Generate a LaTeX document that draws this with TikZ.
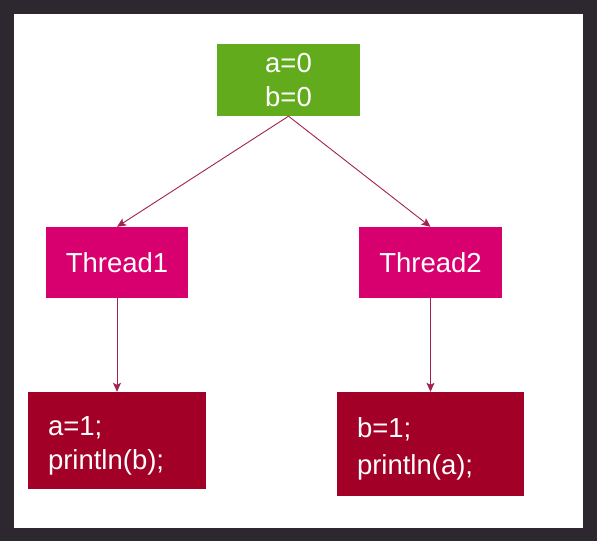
\documentclass[tikz,border=0pt]{standalone}
\usepackage{fontspec}
\setmainfont{Liberation Sans}
\usetikzlibrary{arrows.meta}
\definecolor{frame}{HTML}{2D2830}
\definecolor{initgreen}{HTML}{62AB1C}
\definecolor{threadpink}{HTML}{D8006F}
\definecolor{codered}{HTML}{A30028}
\definecolor{arrowc}{HTML}{A3224F}
\newcommand{\topstrut}{\rule{0pt}{30pt}}
\tikzset{
  basebox/.style={draw=none, text=white, font=\fontsize{27.5}{34}\selectfont, inner sep=0pt},
  initbox/.style={basebox, fill=initgreen, align=center},
  threadbox/.style={basebox, fill=threadpink, align=center},
  codebox/.style={basebox, fill=codered, align=left, inner xsep=20pt},
  conn/.style={draw=arrowc, line width=0.9pt, -{Stealth[length=9pt,width=8pt,inset=2pt]}}
}
\begin{document}
\begin{tikzpicture}[x=1pt,y=-1pt]
\useasboundingbox (0,0) rectangle (597,541);
\fill[frame] (0,0) rectangle (597,541);
\fill[white] (14,14) rectangle (583,528);
\node[initbox, minimum width=143pt, minimum height=72pt] (init) at (288.5,80) {a=0\\b=0};
\node[threadbox, minimum width=142pt, minimum height=71pt] (t1) at (117,262.5) {Thread1};
\node[threadbox, minimum width=143pt, minimum height=71pt] (t2) at (430.5,262.5) {Thread2};
\node[codebox, minimum width=178pt, minimum height=97pt, text width=138pt] (c1) at (117,440.5) {\topstrut a=1;\\println(b);};
\node[codebox, minimum width=187pt, minimum height=104pt, text width=147pt] (c2) at (430.5,444) {\topstrut b=1;\\[3pt]println(a);};
\draw[conn] (init.south) -- (t1.north);
\draw[conn] (init.south) -- (t2.north);
\draw[conn] (t1.south) -- (t1.south |- c1.north);
\draw[conn] (t2.south) -- (t2.south |- c2.north);
\end{tikzpicture}
\end{document}
